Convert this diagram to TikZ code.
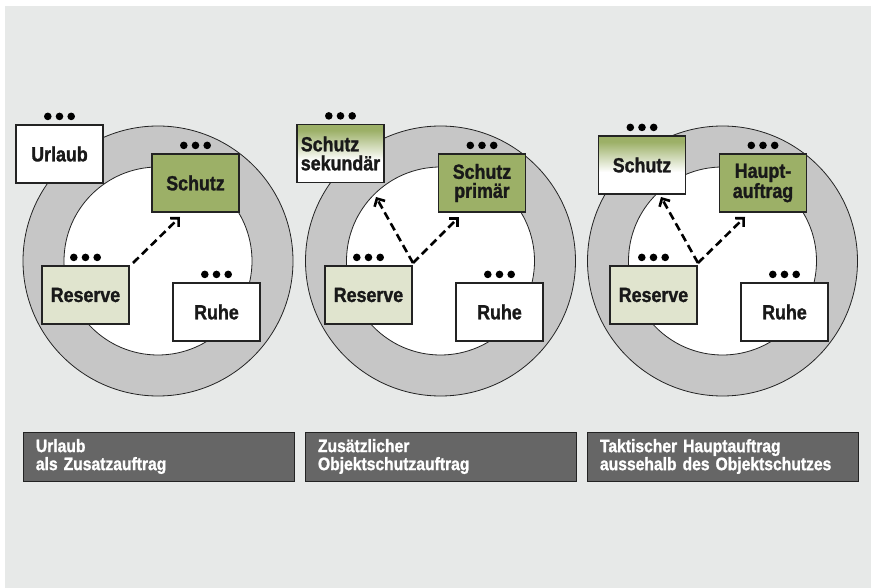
\documentclass[tikz,border=0pt]{standalone}
\usepackage{fontspec}
\setmainfont{Liberation Sans}[
    FakeStretch=0.87,
    BoldFont={Liberation Sans Bold},
    BoldFeatures={FakeStretch=0.87, FakeBold=1.3}]
\usetikzlibrary{arrows.meta}
\definecolor{bggray}{RGB}{231, 233, 232}
\definecolor{ringgray}{RGB}{198, 198, 198}
\definecolor{olivegreen}{RGB}{156, 176, 103}
\definecolor{palegreen}{RGB}{224, 228, 206}
\definecolor{bargray}{RGB}{102, 102, 102}
\definecolor{edgegray}{RGB}{35, 35, 35}
% green at the top, white from about one third down
\pgfdeclareverticalshading{greenfade}{100bp}{color(0bp)=(white); color(44bp)=(white); color(70bp)=(olivegreen); color(100bp)=(olivegreen)}

% three small dots above a box
\newcommand{\taskdots}[1]{%
    \foreach \i in {-1,0,1} \fill (#1.north) ++(\i*11.7,-8) circle (3.8pt);}

\begin{document}
\begin{tikzpicture}[
    x=1pt, y=-1pt,
    task/.style={
        draw=edgegray, line width=1.2pt,
        minimum width=87pt, minimum height=58pt, inner sep=2pt,
        align=center, text=black!90,
        font=\fontsize{20.5}{19}\selectfont\bfseries
    },
    restbox/.style={task, fill=white},
    activebox/.style={task, fill=olivegreen},
    reservebox/.style={task, fill=palegreen},
    fadebox/.style={task, shading=greenfade},
    ring/.style={draw=edgegray, line width=0.8pt, fill=ringgray},
    core/.style={draw=edgegray, line width=0.8pt, fill=white},
    move/.style={-{Straight Barb[length=6pt, width=12pt]}, dash pattern=on 8pt off 4.5pt, line width=2.6pt},
    caption/.style={
        draw=edgegray, line width=0.8pt, fill=bargray,
        minimum width=271pt, minimum height=49pt,
        text width=245pt, inner xsep=13pt, align=left,
        text=white, font=\fontsize{18}{18}\selectfont\bfseries
    }
]

\useasboundingbox (0,0) rectangle (871,588);
\fill[bggray] (5,6) rectangle (871,588);

% PANEL 1 - leave
\draw[ring] (158,261) circle (135pt);
\draw[core] (158,261) circle (94pt);

\node[restbox] (urlaub) at (59.5,154) {Urlaub};
\node[activebox] (schutzA) at (195.5,183) {Schutz};
\node[reservebox] (reserveA) at (85.5,295) {Reserve};
\node[restbox] (ruheA) at (216.5,312) {Ruhe};

\coordinate (forkA) at (133,263);
\coordinate (tipA) at (180,217);
\draw[move] (forkA) -- (tipA);

% PANEL 2 - extra protection task
\draw[ring] (440.5,261) circle (135pt);
\draw[core] (440.5,261) circle (94pt);

\node[fadebox, align=left] (sekundaer) at (340.5,153.5) {Schutz\\sekundär};
\node[activebox] (primaer) at (482,183) {Schutz\\primär};
\node[reservebox] (reserveB) at (368.5,295) {Reserve};
\node[restbox] (ruheB) at (499.5,312) {Ruhe};

\coordinate (forkB) at (413,263);
\coordinate (tipB1) at (459,217);
\coordinate (tipB2) at (376,197);
\draw[move] (forkB) -- (tipB1);
\draw[move] (forkB) -- (tipB2);

% PANEL 3 - main task outside protection
\draw[ring] (722.5,261) circle (135pt);
\draw[core] (722.5,261) circle (94pt);

\node[fadebox] (schutzC) at (642,165) {Schutz};
\node[activebox] (haupt) at (763,183) {Haupt-\\auftrag};
\node[reservebox] (reserveC) at (653.5,295) {Reserve};
\node[restbox] (ruheC) at (784.5,312) {Ruhe};

\coordinate (forkC) at (698,263);
\coordinate (tipC1) at (745,217);
\coordinate (tipC2) at (661,197);
\draw[move] (forkC) -- (tipC1);
\draw[move] (forkC) -- (tipC2);

% dots above every box
\foreach \b in {urlaub, schutzA, reserveA, ruheA,
                sekundaer, primaer, reserveB, ruheB,
                schutzC, haupt, reserveC, ruheC}
    {\taskdots{\b}}

% Captions below
\node[caption] (capA) at (158.4,456.5) {Urlaub\\als Zusatzauftrag};
\node[caption] (capB) at (440.5,456.5) {Zusätzlicher\\Objektschutzauftrag};
\node[caption] (capC) at (722.5,456.5) {Taktischer Hauptauftrag\\aussehalb des Objektschutzes};

\end{tikzpicture}
\end{document}
